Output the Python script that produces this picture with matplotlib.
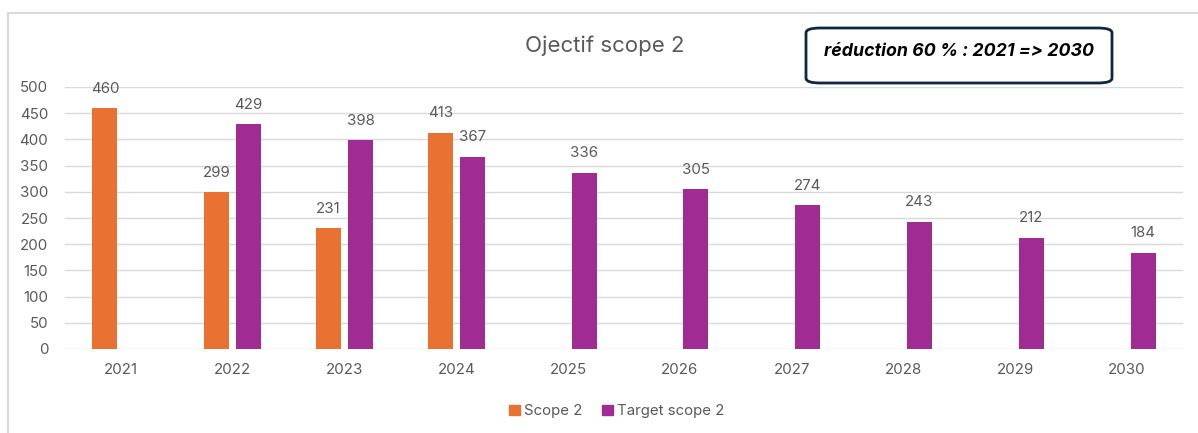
import matplotlib
matplotlib.use("Agg")
import matplotlib.pyplot as plt
import numpy as np
from matplotlib.patches import FancyBboxPatch
from matplotlib.lines import Line2D

years = ["2021", "2022", "2023", "2024", "2025", "2026", "2027", "2028", "2029", "2030"]
scope2 = [460, 299, 231, 413, None, None, None, None, None, None]
target_scope2 = [None, 429, 398, 367, 336, 305, 274, 243, 212, 184]
title = "Ojectif scope 2"
note = "réduction 60 % : 2021 => 2030"
yticks = [0, 50, 100, 150, 200, 250, 300, 350, 400, 450, 500]

ORANGE = "#E97132"
PURPLE = "#A02B93"
GRID = "#D9D9D9"
TXT = "#595959"

plt.rcParams['font.family'] = ['Inter', 'DejaVu Sans']

fig = plt.figure(figsize=(11.98, 4.33), dpi=100)
ax = fig.add_axes([65/1198, 1-349/433, (1183-65)/1198, (349-87)/433])

x = np.arange(len(years))
w = 0.224
off = 0.143

for i, v in enumerate(scope2):
    if v is not None:
        ax.bar(x[i]-off, v, w, color=ORANGE, zorder=3)
        ax.annotate(str(v), (x[i]-off, v), xytext=(0, 14), textcoords="offset points",
                    ha="center", va="center", fontsize=10.8, color=TXT)
for i, v in enumerate(target_scope2):
    if v is not None:
        ax.bar(x[i]+off, v, w, color=PURPLE, zorder=3)
        ax.annotate(str(v), (x[i]+off, v), xytext=(0, 14), textcoords="offset points",
                    ha="center", va="center", fontsize=10.8, color=TXT)

ax.set_xlim(-0.5, len(years)-0.5)
ax.set_ylim(0, 500)
ax.set_yticks(yticks)
ax.set_xticks(x)
ax.set_xticklabels(years)
ax.tick_params(axis="both", length=0, labelsize=10.8, colors=TXT)
ax.tick_params(axis="x", pad=10)
ax.tick_params(axis="y", pad=12)
ax.yaxis.grid(True, color=GRID, linewidth=1, zorder=0)
for s in ax.spines.values():
    s.set_visible(False)

fig.text(605/1198, 1-46/433, title, ha="center", va="center", fontsize=16, color=TXT)

# border lines of chart area
fig.add_artist(Line2D([8/1198, 1.0], [1-13/433, 1-13/433], color=GRID, lw=1.5, transform=fig.transFigure))
fig.add_artist(Line2D([8/1198, 8/1198], [0, 1-13/433], color=GRID, lw=1.5, transform=fig.transFigure))

# annotation box
bx0, bx1 = 806/1198, 1112/1198
by0, by1 = 1-83/433, 1-28/433
box = FancyBboxPatch((bx0, by0), bx1-bx0, by1-by0,
                     boxstyle="round,pad=0,rounding_size=0.012",
                     transform=fig.transFigure, facecolor="white",
                     edgecolor="#0E2841", linewidth=2, mutation_aspect=433/1198*2.5)
fig.add_artist(box)
fig.text((bx0+bx1)/2, 1-52/433, note, ha="center", va="center", fontsize=12.8,
         fontweight="bold", fontstyle="italic", color="black")

# legend
handles = [plt.Rectangle((0, 0), 1, 1, color=ORANGE), plt.Rectangle((0, 0), 1, 1, color=PURPLE)]
fig.legend(handles, ["Scope 2", "Target scope 2"], loc="center", bbox_to_anchor=(617/1198, 1-411/433),
           ncol=2, frameon=False, fontsize=10.8, labelcolor=TXT, handlelength=0.7, handleheight=0.7,
           handletextpad=0.3, columnspacing=1.3)

fig.savefig("out.png", dpi=100)
